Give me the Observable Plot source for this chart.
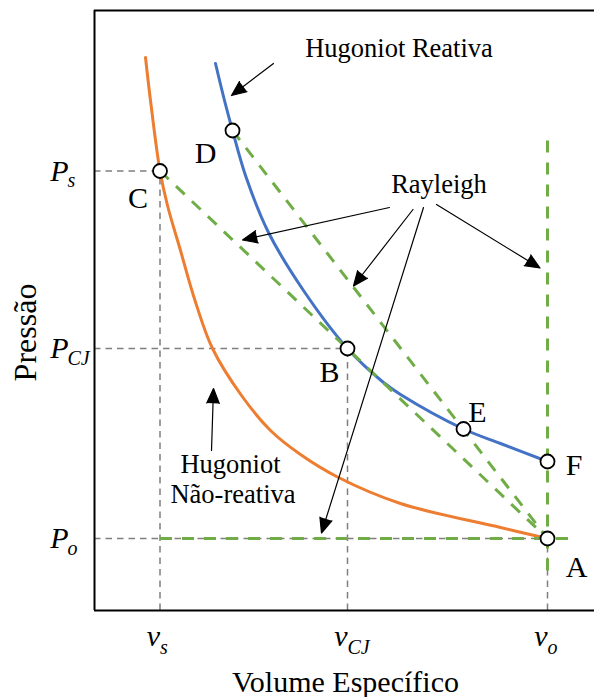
<!DOCTYPE html>
<html>
<head>
<meta charset="utf-8">
<script src="https://cdn.jsdelivr.net/npm/d3@7"></script>
<script src="https://cdn.jsdelivr.net/npm/@observablehq/plot@0.6"></script>
<style>
  html, body { margin: 0; padding: 0; background: #fff; }
  #chart svg { display: block; }
  #chart svg text { font-family: "Liberation Serif", "Times New Roman", Tinos, "DejaVu Serif" !important; }
</style>
</head>
<body>
<div id="chart"></div>
<script>
// ---- Data (v = specific volume, P = pressure, arbitrary units) ----
const vTickValues = [1.31, 5.06, 9.06];
const vTickMain = ["v", "v", "v"];
const vTickSub = ["s", "CJ", "o"];
const pTickValues = [8.79, 5.24, 1.44];
const pTickMain = ["P", "P", "P"];
const pTickSub = ["s", "CJ", "o"];

// Hugoniot não-reativa (orange)
const hugNRV = [1.02, 1.12, 1.31, 1.46, 1.72, 2.01, 2.36, 2.94, 3.52, 4.12, 4.88, 6.12, 8.12, 9.06];
const hugNRP = [11.06, 10.20, 8.79, 8.10, 7.20, 6.20, 5.24, 4.30, 3.60, 3.12, 2.66, 2.14, 1.66, 1.44];
// Hugoniot reativa (blue)
const hugRV = [2.42, 2.60, 2.76, 3.02, 3.48, 4.18, 5.06, 5.78, 6.12, 7.38, 8.12, 9.06];
const hugRP = [10.94, 10.20, 9.60, 8.70, 7.56, 6.40, 5.24, 4.56, 4.32, 3.63, 3.34, 2.98];

// Rayleigh lines (green dashed)
const rayV1 = [1.31, 2.76, 9.06, 1.31];
const rayP1 = [8.79, 9.60, 9.40, 1.44];
const rayV2 = [9.06, 9.06, 9.06, 9.56];
const rayP2 = [1.44, 1.44, 0.70, 1.44];

// Marked states
const pointNames = ["A", "B", "C", "D", "E", "F"];
const pointV = [9.06, 5.06, 1.31, 2.76, 7.38, 9.06];
const pointP = [1.44, 5.24, 8.79, 9.60, 3.63, 2.98];
const pointLabelV = [9.64, 4.70, 0.87, 2.22, 7.66, 9.59];
const pointLabelP = [0.86, 4.76, 8.25, 9.15, 3.96, 2.90];

// Annotation texts
const noteText = ["Hugoniot Reativa", "Rayleigh", "Hugoniot", "Não-reativa"];
const noteV = [6.09, 6.89, 2.72, 2.77];
const noteP = [11.23, 8.52, 2.92, 2.32];

// Annotation arrows (from -> to)
const arrowV1 = [3.58, 5.90, 6.37, 6.58, 6.84, 2.34];
const arrowP1 = [10.94, 8.06, 8.02, 8.06, 8.12, 3.20];
const arrowV2 = [2.74, 2.96, 5.18, 4.54, 8.91, 2.38];
const arrowP2 = [10.30, 7.41, 6.49, 1.55, 6.85, 4.44];

// ---- Build tables ----
const orange = hugNRV.map((v, i) => ({v, p: hugNRP[i]}));
const blue = hugRV.map((v, i) => ({v, p: hugRP[i]}));
const rays = rayV1.map((v, i) => ({v1: v, p1: rayP1[i], v2: rayV2[i], p2: rayP2[i]}));
const points = pointNames.map((n, i) => ({n, v: pointV[i], p: pointP[i], lv: pointLabelV[i], lp: pointLabelP[i]}));
const notes = noteText.map((t, i) => ({t, v: noteV[i], p: noteP[i]}));
const arrows = arrowV1.map((v, i) => ({v1: v, p1: arrowP1[i], v2: arrowV2[i], p2: arrowP2[i]}));
const guides = vTickValues.map((v, i) => ({v, p: pTickValues[i]}));

const gray = "#7f7f7f";
const green = "#70AD47";

const chart = Plot.plot({
  width: 595,
  height: 697,
  marginLeft: 94,
  marginRight: 1,
  marginTop: 10,
  marginBottom: 87,
  x: {domain: [0, 10], axis: null},
  y: {domain: [0, 12], axis: null},
  style: {background: "white", overflow: "visible", color: "black"},
  marks: [
    // gray guide lines
    Plot.ruleX(guides, {x: "v", y1: () => 0, y2: "p", stroke: gray, strokeWidth: 1.5, strokeDasharray: "6.5,5"}),
    Plot.ruleY(guides, {y: "p", x1: () => 0, x2: "v", stroke: gray, strokeWidth: 1.5, strokeDasharray: "6.5,5"}),
    // Hugoniot curves
    Plot.line(orange, {x: "v", y: "p", stroke: "#ED7D31", strokeWidth: 3, curve: "catmull-rom"}),
    Plot.line(blue, {x: "v", y: "p", stroke: "#4472C4", strokeWidth: 3, curve: "catmull-rom"}),
    // Rayleigh lines
    Plot.link(rays, {x1: "v1", y1: "p1", x2: "v2", y2: "p2", stroke: green, strokeWidth: 3, strokeDasharray: "12,10"}),
    // frame
    Plot.ruleX([0], {stroke: "black", strokeWidth: 2}),
    Plot.ruleY([0, 12], {stroke: "black", strokeWidth: 2}),
    // arrows
    Plot.arrow(arrows, {x1: "v1", y1: "p1", x2: "v2", y2: "p2", stroke: "black", fill: "black", strokeWidth: 1.2, headLength: 20, headAngle: 46, strokeLinejoin: "miter"}),
    // state points
    Plot.dot(points, {x: "v", y: "p", r: 7, fill: "white", stroke: "black", strokeWidth: 1.8}),
    Plot.text(points, {x: "lv", y: "lp", text: "n", fontSize: 30, fill: "black"}),
    // annotations
    Plot.text(notes, {x: "v", y: "p", text: "t", fontSize: 26.5, fill: "black"}),
    // x tick labels
    Plot.text(vTickValues, {x: d => d, frameAnchor: "bottom", lineAnchor: "middle", text: (d, i) => vTickMain[i], fontSize: 30, fontStyle: "italic", textAnchor: "end", dy: 26, fill: "black"}),
    Plot.text(vTickValues, {x: d => d, frameAnchor: "bottom", lineAnchor: "middle", text: (d, i) => vTickSub[i], fontSize: 20, fontStyle: "italic", textAnchor: "start", dy: 37, fill: "black"}),
    // y tick labels
    Plot.text(pTickValues, {y: d => d, frameAnchor: "left", lineAnchor: "middle", text: (d, i) => pTickMain[i], fontSize: 30, fontStyle: "italic", textAnchor: "end", dx: -26, fill: "black"}),
    Plot.text(pTickValues, {y: d => d, frameAnchor: "left", lineAnchor: "middle", text: (d, i) => pTickSub[i], fontSize: 20, fontStyle: "italic", textAnchor: "start", dx: -27, dy: 10, fill: "black"}),
    // axis titles
    Plot.text(["Volume Específico"], {frameAnchor: "bottom", lineAnchor: "middle", textAnchor: "middle", text: d => d, fontSize: 30, dy: 72, dx: 1, fill: "black"}),
    Plot.text(["Pressão"], {frameAnchor: "left", lineAnchor: "middle", textAnchor: "middle", text: d => d, fontSize: 32, rotate: -90, dx: -69, dy: 22, fill: "black"})
  ]
});
document.getElementById("chart").appendChild(chart);
</script>
</body>
</html>
